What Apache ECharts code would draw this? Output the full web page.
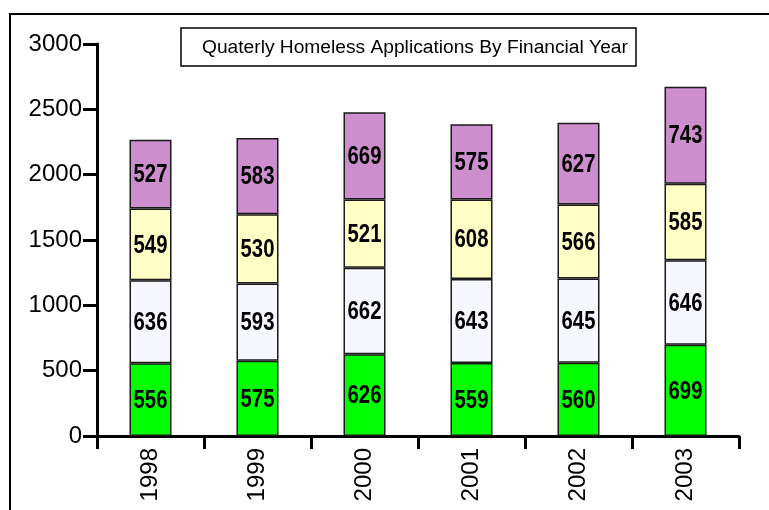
<!DOCTYPE html>
<html><head><meta charset="utf-8">
<script src="https://cdn.jsdelivr.net/npm/echarts@6/dist/echarts.min.js"></script>
<style>html,body{margin:0;padding:0;background:#fff}#c{width:769px;height:510px}</style>
</head><body><div id="c"></div>
<script>
const years = ['1998','1999','2000','2001','2002','2003'];
const q1 = [556, 575, 626, 559, 560, 699];
const q2 = [636, 593, 662, 643, 645, 646];
const q3 = [549, 530, 521, 608, 566, 585];
const q4 = [527, 583, 669, 575, 627, 743];
const seriesNames = ['Q1','Q2','Q3','Q4'];
const colors = ['#00FF00', '#F6F6FE', '#FFFFC6', '#CC8ECC'];
const titleText = 'Quaterly Homeless Applications By Financial Year';
const yTicks = [0, 500, 1000, 1500, 2000, 2500, 3000];

const stacks = [q1, q2, q3, q4];
// label data: [categoryIndex, segmentBottom, segmentTop, value]
const labelData = [];
years.forEach((y, i) => {
  let base = 0;
  stacks.forEach(s => { labelData.push([i, base, base + s[i], s[i]]); base += s[i]; });
});

const chart = echarts.init(document.getElementById('c'));
const mk = (name, data, i) => ({name, type:'bar', stack:'s', data, barWidth:42,
  itemStyle:{color:colors[i], borderColor:'#1a1a1a', borderWidth:1.5}, animation:false});
chart.setOption({
  animation:false,
  grid:{left:97, right:30, top:44, bottom:74},
  xAxis:{type:'category', data:years,
    axisLine:{lineStyle:{color:'#000', width:3}},
    axisTick:{show:true, length:13, lineStyle:{color:'#000', width:3}},
    axisLabel:{rotate:90, color:'#000', fontSize:24, fontFamily:'Liberation Sans, Arial, sans-serif', margin:12}},
  yAxis:{type:'value', min:yTicks[0], max:yTicks[yTicks.length-1], interval:yTicks[1]-yTicks[0],
    axisLine:{show:true, lineStyle:{color:'#000', width:3}},
    axisTick:{show:true, inside:false, length:14, lineStyle:{color:'#000', width:3}},
    splitLine:{show:false},
    axisLabel:{color:'#000', fontSize:24, fontFamily:'Liberation Sans, Arial, sans-serif', margin:15,
      formatter: v => String(v)}},
  series:[mk(seriesNames[0], q1, 0), mk(seriesNames[1], q2, 1), mk(seriesNames[2], q3, 2), mk(seriesNames[3], q4, 3),
    {type:'custom', data:labelData, z:20, silent:true,
      encode:{x:0, y:[1,2]},
      renderItem:(params, api) => {
        const p = api.coord([api.value(0), (api.value(1) + api.value(2)) / 2]);
        return {type:'text', x:p[0], y:p[1] + 1, scaleX:0.78,
          style:{text:String(api.value(3)), fill:'#000', align:'center', verticalAlign:'middle',
            font:'bold 26px "Liberation Sans", Arial, sans-serif'}};
      }}],
  graphic:[
    {type:'rect', shape:{x:10, y:14, width:800, height:520}, style:{fill:'none', stroke:'#000', lineWidth:2}, silent:true, z:-1},
    {type:'rect', shape:{x:181, y:28, width:455, height:38}, style:{fill:'#fff', stroke:'#000', lineWidth:1.5}, z:10},
    {type:'text', x:202, y:48, style:{text:titleText, fill:'#000', fontSize:19.2, fontFamily:'Liberation Sans, Arial, sans-serif', verticalAlign:'middle'}, z:11}
  ]
});
</script></body></html>
